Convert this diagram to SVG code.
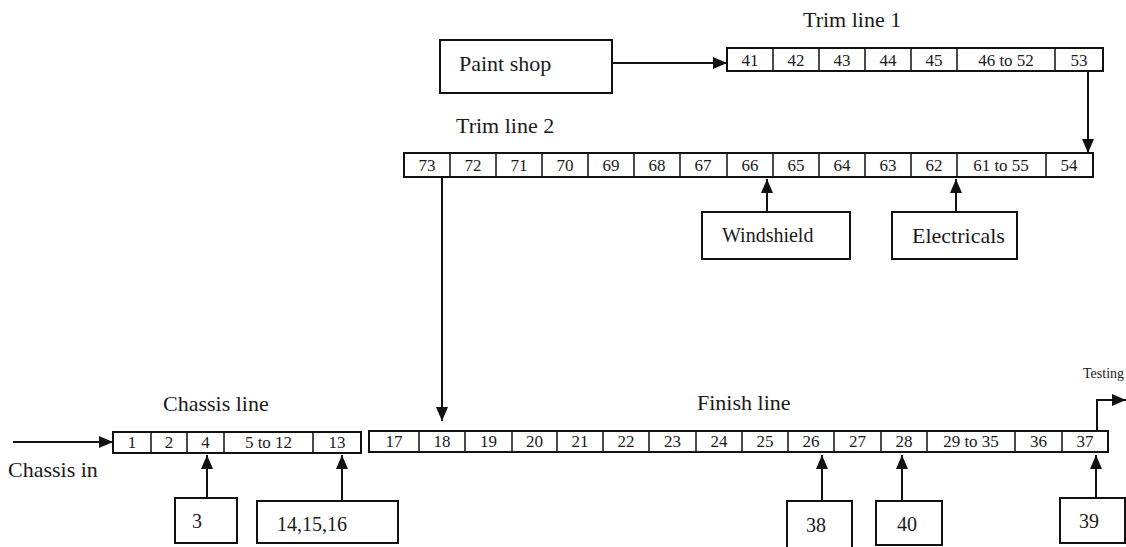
<svg xmlns="http://www.w3.org/2000/svg" width="1126" height="547" viewBox="0 0 1126 547" font-family="'Liberation Serif', 'Times New Roman', Times, 'DejaVu Serif', serif">
<defs>
<style>
rect,.box{fill:#fff;stroke:#111;stroke-width:2}
.div{stroke:#111;stroke-width:1.5}
text{fill:#1a1a1a}
.c{font-size:17px;text-anchor:middle}
.t{font-size:22px}
.b{font-size:20px}
.con{fill:none;stroke:#111;stroke-width:2}
</style>
<marker id="ah" markerUnits="userSpaceOnUse" markerWidth="14" markerHeight="14" viewBox="0 0 14 14" refX="14" refY="7" orient="auto">
<path d="M0,1 L14,7 L0,13 Z" fill="#111"/>
</marker>
</defs>
<rect width="1126" height="547" fill="#fff" style="stroke:none"/>

<text class="t" x="803" y="27">Trim line 1</text>
<text class="t" x="456" y="133">Trim line 2</text>
<text class="t" x="163" y="411">Chassis line</text>
<text class="t" x="697" y="410">Finish line</text>
<text class="t" x="8" y="477">Chassis in</text>
<text style="font-size:14px" x="1083" y="378">Testing</text>

<g id="paint-shop"><rect x="440" y="40" width="172" height="53"/><text class="t" x="459" y="71">Paint shop</text></g>

<g id="trim-line-1">
<rect x="727" y="48" width="376" height="23"/>
<path class="div" d="M773,48V71M819,48V71M865,48V71M911,48V71M957,48V71M1055,48V71"/>
<text class="c" y="66"><tspan x="750">41</tspan><tspan x="796">42</tspan><tspan x="842">43</tspan><tspan x="888">44</tspan><tspan x="934">45</tspan><tspan x="1006">46 to 52</tspan><tspan x="1079">53</tspan></text>
</g>

<g id="trim-line-2">
<rect x="404" y="153" width="689" height="24"/>
<path class="div" d="M450,153V177M496,153V177M542,153V177M588,153V177M634,153V177M680,153V177M727,153V177M773,153V177M819,153V177M865,153V177M911,153V177M957,153V177M1046,153V177"/>
<text class="c" y="171"><tspan x="427">73</tspan><tspan x="473">72</tspan><tspan x="519">71</tspan><tspan x="565">70</tspan><tspan x="611">69</tspan><tspan x="657">68</tspan><tspan x="703">67</tspan><tspan x="750">66</tspan><tspan x="796">65</tspan><tspan x="842">64</tspan><tspan x="888">63</tspan><tspan x="934">62</tspan><tspan x="1001">61 to 55</tspan><tspan x="1069">54</tspan></text>
</g>

<g id="windshield"><rect x="702" y="212" width="148" height="47"/><text class="b" x="722" y="242">Windshield</text></g>
<g id="electricals"><rect x="892" y="212" width="125" height="47"/><text class="t" x="912" y="243">Electricals</text></g>

<g id="chassis-line">
<rect x="113" y="432" width="248" height="21"/>
<path class="div" d="M151,432V453M187,432V453M224,432V453M313,432V453"/>
<text class="c" y="448"><tspan x="132">1</tspan><tspan x="169">2</tspan><tspan x="205.500">4</tspan><tspan x="268.500">5 to 12</tspan><tspan x="337">13</tspan></text>
</g>

<g id="finish-line">
<rect x="369" y="431" width="739" height="21"/>
<path class="div" d="M419,431V452M465,431V452M512,431V452M557,431V452M603,431V452M649,431V452M696,431V452M742,431V452M788,431V452M834,431V452M881,431V452M927,431V452M1015,431V452M1062,431V452"/>
<text class="c" y="447"><tspan x="394">17</tspan><tspan x="442">18</tspan><tspan x="488.500">19</tspan><tspan x="534.500">20</tspan><tspan x="580">21</tspan><tspan x="626">22</tspan><tspan x="672.500">23</tspan><tspan x="719">24</tspan><tspan x="765">25</tspan><tspan x="811">26</tspan><tspan x="857.500">27</tspan><tspan x="904">28</tspan><tspan x="971">29 to 35</tspan><tspan x="1038.500">36</tspan><tspan x="1085">37</tspan></text>
</g>

<g id="box-3"><rect x="175" y="498" width="62" height="45"/><text class="b" x="192" y="528">3</text></g>
<g id="box-14-15-16"><rect x="257" y="501" width="141" height="42"/><text class="b" x="277" y="531">14,15,16</text></g>
<g id="box-38"><path class="box" d="M787,548V501H852V548"/><text class="b" x="806" y="532">38</text></g>
<g id="box-40"><rect x="876" y="501" width="66" height="44"/><text class="b" x="897" y="531">40</text></g>
<g id="box-39"><rect x="1060" y="498" width="65" height="45"/><text class="b" x="1079" y="528">39</text></g>

<g id="connectors">
<path class="con" marker-end="url(#ah)" d="M612,63H727"/>
<path class="con" marker-end="url(#ah)" d="M1088,71V153"/>
<path class="con" marker-end="url(#ah)" d="M442,177V421"/>
<path class="con" marker-end="url(#ah)" d="M767,212V179"/>
<path class="con" marker-end="url(#ah)" d="M956,212V179"/>
<path class="con" marker-end="url(#ah)" d="M13,442H113"/>
<path class="con" marker-end="url(#ah)" d="M207,498V455"/>
<path class="con" marker-end="url(#ah)" d="M342,501V455"/>
<path class="con" marker-end="url(#ah)" d="M822,501V455"/>
<path class="con" marker-end="url(#ah)" d="M902,501V455"/>
<path class="con" marker-end="url(#ah)" d="M1096,498V455"/>
<path class="con" marker-end="url(#ah)" d="M1097,431V400H1126"/>
</g>
</svg>
